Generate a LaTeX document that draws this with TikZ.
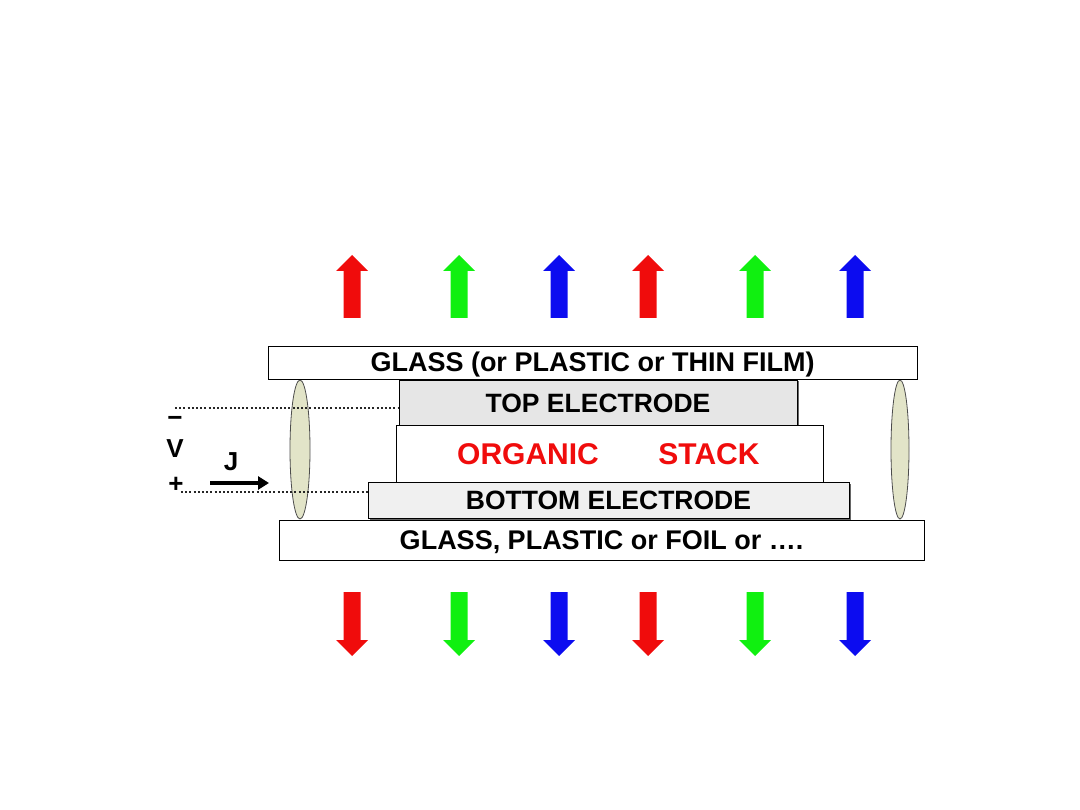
\documentclass[tikz,border=0pt]{standalone}
\usepackage{fontspec}
\setmainfont{Liberation Sans}
\usetikzlibrary{arrows.meta, calc, positioning, shapes.geometric, shadows}

\definecolor{emitred}{RGB}{240,12,12}
\definecolor{emitgreen}{RGB}{16,240,16}
\definecolor{emitblue}{RGB}{12,12,240}
\definecolor{sealfill}{RGB}{226,228,200}
\definecolor{topgray}{RGB}{230,230,230}
\definecolor{botgray}{RGB}{240,240,240}

\tikzset{
  layer/.style={draw=black, line width=0.9pt, fill=white, inner sep=0pt,
    text height=19pt, text depth=0pt,
    font=\bfseries\fontsize{26.5}{28}\selectfont},
  glassbox/.style={layer, font=\bfseries\fontsize{27}{29}\selectfont},
  electrode/.style={layer, drop shadow={shadow xshift=1.5pt, shadow yshift=-1.5pt,
    fill=black!60, opacity=1}},
  stacklabel/.style={text=emitred, inner sep=0pt, text height=21pt, text depth=0pt,
    font=\bfseries\fontsize{30}{32}\selectfont},
  seal/.style={ellipse, draw=black!70, line width=0.8pt, fill=sealfill, inner sep=0pt},
  wire/.style={line width=2.2pt, dash pattern=on 2pt off 2.2pt, black!85},
  polarity/.style={inner sep=0pt, font=\bfseries\fontsize{26}{28}\selectfont}
}

\begin{document}
\begin{tikzpicture}[x=1pt,y=-1pt]
\useasboundingbox (0,0) rectangle (1080,810);

% seals between the two plates
\node[seal, minimum width=20pt, minimum height=139pt] (sealL) at (300,449.5) {};
\node[seal, minimum width=18pt, minimum height=139pt] (sealR) at (900,449.5) {};

% the layers
\node[glassbox, minimum width=649pt, minimum height=33pt] (glassTop) at (592.5,362.5)
  {GLASS (or PLASTIC or THIN FILM)};
\node[electrode, fill=topgray, minimum width=398pt, minimum height=46pt] (topEl) at (598,403)
  {TOP ELECTRODE};
\node[layer, minimum width=427pt, minimum height=57pt] (organic) at (609.5,453.5) {};
\node[electrode, fill=botgray, minimum width=481pt, minimum height=36pt] (botEl) at (608.5,500)
  {BOTTOM ELECTRODE};
\node[glassbox, minimum width=645pt, minimum height=40pt] (glassBot) at (601.5,540)
  {GLASS, PLASTIC or FOIL or \ldots.};

\node[stacklabel] (organicLbl) at (528,454) {ORGANIC};
\node[stacklabel] (stackLbl) at (709,454) {STACK};

% supply
\node[polarity] (minus) at (175,421) {\textminus};
\node[polarity] (volt) at (175,449) {V};
\node[polarity] (plus) at (176,485) {+};
\node[polarity] (jLbl) at (231,462) {J};
\coordinate (minusEnd) at (175,408);
\coordinate (plusEnd) at (181,492);
\coordinate (jStart) at (210,483);
\coordinate (jEnd) at (269,483);
\draw[wire] (minusEnd) -- (topEl.west |- minusEnd);
\draw[wire] (plusEnd) -- (botEl.west |- plusEnd);
\draw[line width=4pt, -{Triangle[length=11pt,width=13pt]}] (jStart) -- (jEnd);

% emitted light
\foreach \x/\c in {352/emitred, 459/emitgreen, 559/emitblue, 648/emitred, 755/emitgreen, 855/emitblue}{
  \fill[\c] (\x-8.5,318) -- (\x-8.5,271) -- (\x-16,271) -- (\x,255)
    -- (\x+16,271) -- (\x+8.5,271) -- (\x+8.5,318) -- cycle;
  \fill[\c] (\x-8.5,592) -- (\x-8.5,640) -- (\x-16,640) -- (\x,656)
    -- (\x+16,640) -- (\x+8.5,640) -- (\x+8.5,592) -- cycle;
}
\end{tikzpicture}
\end{document}
